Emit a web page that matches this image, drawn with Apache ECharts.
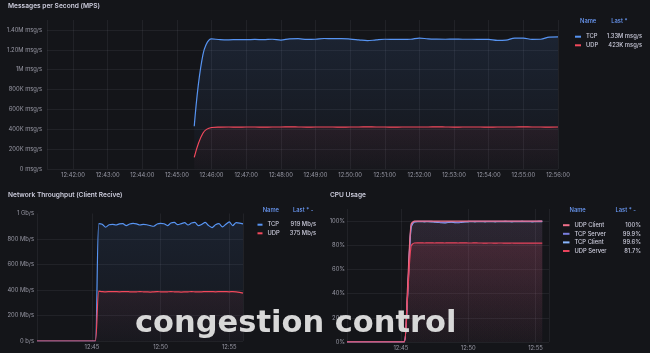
<!DOCTYPE html>
<html><head><meta charset="utf-8">
<script src="https://cdn.jsdelivr.net/npm/echarts@6/dist/echarts.min.js"></script>
<style>html,body{margin:0;padding:0;background:#141519;overflow:hidden}#c{width:650px;height:353px}</style>
</head><body><div id="c"></div>
<script>
// ---------- DATA ----------
// Messages per second, 15 s samples from 12:45:30 to 12:56:00
const mpsStart = [12, 45, 30];
const mpsTcp = [430000,1150000,1310000,1302000,1300000,1303000,1302000,1304000,1302000,1306000,1298000,1310000,1312000,1304000,1306000,1314000,1312000,1313000,1308000,1300000,1292000,1300000,1306000,1305000,1304000,1306000,1318000,1310000,1307000,1306000,1308000,1306000,1306000,1305000,1304000,1294000,1297000,1318000,1318000,1305000,1306000,1328000,1330000];
const mpsUdp = [118000,360000,418000,422000,423000,422000,423000,423000,422000,423000,423000,424000,423000,422000,423000,423000,423000,422000,423000,423000,424000,423000,423000,422000,423000,423000,423000,423000,424000,423000,422000,423000,423000,423000,422000,423000,423000,423000,424000,423000,423000,422000,423000];
const mpsYLabels = ['0 msg/s','200K msg/s','400K msg/s','600K msg/s','800K msg/s','1M msg/s','1.20M msg/s','1.40M msg/s'];

// Network throughput (Mb/s), 15 s samples from 12:41:00 to 12:56:00
const tpStart = [12, 41, 0];
const tpTcp = [0,0,0,0,0,0,0,0,0,0,0,0,0,0,0,0,0,0,
  920,915,892,912,915,910,918,920,905,918,922,918,910,915,912,905,900,918,922,920,905,925,930,912,920,928,910,925,930,905,915,930,905,890,912,920,895,915,935,905,928,925,919];
const tpUdp = [0,0,0,0,0,0,0,0,0,0,0,0,0,0,0,0,0,0,
  391,388,386,387,388,387,386,387,388,386,385,386,387,386,385,384,386,387,386,385,386,387,386,385,384,385,386,387,386,385,386,387,388,387,386,387,388,387,386,387,386,382,375];
const tpYLabels = ['0 b/s','200 Mb/s','400 Mb/s','600 Mb/s','800 Mb/s','1 Gb/s'];

// CPU usage (%), 15 s samples from 12:41:00 to 12:56:00
const cpuStart = [12, 41, 0];
const cpuUdpClient = [0,0,0,0,0,0,0,0,0,0,0,0,0,0,0,0,0,0,
  46,97,99.9,100,100,99.9,100,100,100,99.9,100,100,100,100,99.9,100,100,100,100,99.9,100,100,100,100,100,99.9,100,100,100,100,100,99.9,100,100,100,100,100,100,100,100,100];
const cpuTcpServer = [0,0,0,0,0,0,0,0,0,0,0,0,0,0,0,0,0,0,
  40,95,99.6,99.8,99.8,99.7,99.8,99.7,99.5,99.3,99.0,98.9,99.2,99.4,99.1,98.9,99.3,99.6,99.7,99.8,99.7,99.8,99.8,99.7,99.8,99.8,99.7,99.8,99.8,99.9,99.8,99.7,99.8,99.8,99.9,99.8,99.8,99.7,99.8,99.9,99.9];
const cpuTcpClient = [0,0,0,0,0,0,0,0,0,0,0,0,0,0,0,0,0,0,
  38,94,99.3,99.5,99.5,99.4,99.5,99.4,99.2,99.0,98.7,98.6,98.9,99.1,98.8,98.7,99.0,99.3,99.4,99.5,99.4,99.5,99.5,99.4,99.5,99.5,99.4,99.5,99.5,99.6,99.5,99.4,99.5,99.5,99.6,99.5,99.5,99.4,99.5,99.6,99.6];
const cpuUdpServer = [0,0,0,0,0,0,0,0,0,0,0,0,0,0,0,0,0,0,
  38,79,81.9,82.0,82.0,81.9,82.0,82.0,81.9,82.0,82.0,81.9,82.0,82.0,82.0,81.9,82.0,82.0,81.9,81.9,82.0,81.9,81.9,81.8,81.9,81.9,81.8,81.9,81.9,81.8,81.8,81.9,81.8,81.8,81.8,81.7,81.8,81.8,81.7,81.7,81.7];
const cpuYLabels = ['0%','20%','40%','60%','80%','100%'];

// ---------- HELPERS ----------
const T = (a) => Date.UTC(2024, 0, 1, a[0], a[1], a[2]);
const STEP = 15000;
const pairs = (start, vals) => vals.map((v, i) => [T(start) + i * STEP, v]);
const last = (a) => a[a.length - 1];
const pad = (n) => String(n).padStart(2, '0');
const fmtMps = (v) => v >= 1e6 ? (v / 1e6).toFixed(2) + 'M msg/s' : Math.round(v / 1e3) + 'K msg/s';
const fmtTp = (v) => Math.round(v) + ' Mb/s';
const fmtCpu = (v) => (v >= 100 ? Math.round(v) : v.toFixed(1)) + '%';

const BLUE = '#5794F2', RED = '#F2495C';
const FONT = 'Inter';
const AX = 'rgba(204,204,220,0.7)';
const GRID = 'rgba(204,204,220,0.075)';
const TXT = '#ccccdc';

const grad = (c, a0, a1) => new echarts.graphic.LinearGradient(0, 0, 0, 1, [
  { offset: 0, color: c.replace('A', a0) }, { offset: 1, color: c.replace('A', a1) }]);

function xAxis(gi, min, max, stepMin, withSec, margin) {
  const approx = stepMin * 60000 * 1.1;
  return {
    type: 'time', gridIndex: gi, min: T(min), max: T(max),
    minInterval: approx, maxInterval: approx,
    axisLine: { show: false }, axisTick: { show: false },
    splitLine: { show: true, lineStyle: { color: GRID, width: 1 } },
    axisLabel: {
      color: AX, fontFamily: FONT, fontSize: 5.8, margin: margin, hideOverlap: false, interval: 0,
      showMinLabel: true, showMaxLabel: true,
      formatter: (v) => {
        const d = new Date(v);
        if (d.getUTCSeconds() !== 0 || d.getUTCMinutes() % stepMin !== 0) return '';
        return pad(d.getUTCHours()) + ':' + pad(d.getUTCMinutes()) + (withSec ? ':00' : '');
      }
    }
  };
}
function yAxis(gi, max, interval, labels, margin) {
  return {
    type: 'value', gridIndex: gi, min: 0, max: max, interval: interval,
    axisLine: { show: false }, axisTick: { show: false },
    splitLine: { show: true, showMaxLine: false, lineStyle: { color: GRID, width: 1 } },
    axisLabel: {
      color: AX, fontFamily: FONT, fontSize: 5.8, margin: margin, showMaxLabel: true,
      formatter: (v) => { const k = v / interval; return Number.isInteger(k) && labels[k] ? labels[k] : ''; }
    }
  };
}
function line(name, xi, data, color, fill, smooth, z) {
  return {
    name: name, type: 'line', xAxisIndex: xi, yAxisIndex: xi, data: data,
    showSymbol: false, smooth: smooth, z: z || 2,
    lineStyle: { color: color, width: 1.2 }, itemStyle: { color: color },
    areaStyle: { color: fill, origin: 'start' }, animation: false
  };
}
function legend(left, top, names, vals, nameW, valW, iw) {
  const map = {}; names.forEach((n, i) => map[n] = vals[i]);
  return {
    left: left, top: top, orient: 'vertical', itemWidth: iw, itemHeight: 2, icon: 'rect',
    itemGap: 2.6, selectedMode: false, data: names,
    formatter: (n) => '{n|' + n + '}{v|' + map[n] + '}',
    textStyle: {
      color: TXT, fontFamily: FONT, fontSize: 5.8, fontWeight: 500,
      rich: {
        n: { width: nameW, color: TXT, fontFamily: FONT, fontSize: 5.8, fontWeight: 500, lineHeight: 8 },
        v: { width: valW, align: 'right', color: TXT, fontFamily: FONT, fontSize: 5.8, fontWeight: 500, lineHeight: 8 }
      }
    }
  };
}
function text(x, y, s, opts) {
  return Object.assign({ type: 'text', x: x, y: y, silent: true, z: 50,
    style: Object.assign({ text: s, fill: TXT, font: '600 6.6px Inter', verticalAlign: 'middle' }, opts || {}) });
}
const hdr = (x, y, s, align) => text(x, y, s, { fill: '#6E9FFF', font: '500 5.8px Inter', align: align || 'left' });

const chart = echarts.init(document.getElementById('c'), null, { renderer: 'canvas' });
chart.setOption({
  useUTC: true,
  backgroundColor: '#141519',
  animation: false,
  grid: [
    { left: 47, right: 92, top: 20, bottom: 184 },
    { left: 37, right: 407, top: 213.5, bottom: 12 },
    { left: 347, right: 101, top: 209, bottom: 11 }
  ],
  xAxis: [
    xAxis(0, [12, 41, 15], [12, 56, 0], 1, true, 3),
    xAxis(1, [12, 41, 0], [12, 56, 0], 5, false, 3),
    xAxis(2, [12, 41, 0], [12, 56, 0], 5, false, 3)
  ],
  yAxis: [
    yAxis(0, 1500000, 200000, mpsYLabels, 5),
    yAxis(1, 1000, 200, tpYLabels, 3),
    yAxis(2, 110, 20, cpuYLabels, 2)
  ],
  legend: [
    legend(570, 28.7, ['TCP', 'UDP'], [fmtMps(last(mpsTcp)), fmtMps(last(mpsUdp))], 20, 36, 6),
    legend(252.5, 216.7, ['TCP', 'UDP'], [fmtTp(last(tpTcp)), fmtTp(last(tpUdp))], 20, 28.5, 5),
    legend(558, 217.2, ['UDP Client', 'TCP Server', 'TCP Client', 'UDP Server'],
      [fmtCpu(last(cpuUdpClient)), fmtCpu(last(cpuTcpServer)), fmtCpu(last(cpuTcpClient)), fmtCpu(last(cpuUdpServer))], 40, 26.5, 6.5)
  ],
  series: [
    line('TCP', 0, pairs(mpsStart, mpsTcp), BLUE, grad('rgba(87,148,242,A)', 0.16, 0.02), 0.35),
    line('UDP', 0, pairs(mpsStart, mpsUdp), RED, grad('rgba(242,73,92,A)', 0.10, 0.02), 0.35, 3),
    line('TCP', 1, pairs(tpStart, tpTcp), BLUE, grad('rgba(87,148,242,A)', 0.14, 0.03), 0.25),
    line('UDP', 1, pairs(tpStart, tpUdp), RED, grad('rgba(242,73,92,A)', 0.10, 0.02), 0.25, 3),
    line('TCP Client', 2, pairs(cpuStart, cpuTcpClient), '#8AB8FF', grad('rgba(138,184,255,A)', 0.06, 0.01), 0.3),
    line('TCP Server', 2, pairs(cpuStart, cpuTcpServer), '#7A7FE0', grad('rgba(122,127,224,A)', 0.07, 0.01), 0.3),
    line('UDP Client', 2, pairs(cpuStart, cpuUdpClient), '#F0708A', grad('rgba(240,112,138,A)', 0.10, 0.02), 0.3, 3),
    line('UDP Server', 2, pairs(cpuStart, cpuUdpServer), '#E8435C', grad('rgba(232,67,92,A)', 0.2, 0.03), 0.3, 4)
  ],
  graphic: [
    text(8, 6, 'Messages per Second (MPS)'),
    text(8, 195, 'Network Throughput (Client Recive)'),
    text(330, 195, 'CPU Usage'),
    hdr(580, 21.7, 'Name'), hdr(627.5, 21.7, 'Last *', 'right'),
    hdr(262.7, 210.5, 'Name'), hdr(313.5, 210.5, 'Last * -', 'right'),
    hdr(569.5, 210.3, 'Name'), hdr(636, 210.3, 'Last * -', 'right'),
    { type: 'text', x: 135, y: 324.5, z: 100, silent: true,
      style: { text: 'congestion control', font: 'bold 30.5px "DejaVu Sans"', fill: '#d8d8d8',
        verticalAlign: 'middle', shadowColor: 'rgba(0,0,0,0.85)', shadowBlur: 4, shadowOffsetX: 1, shadowOffsetY: 1 } }
  ]
});
</script></body></html>
